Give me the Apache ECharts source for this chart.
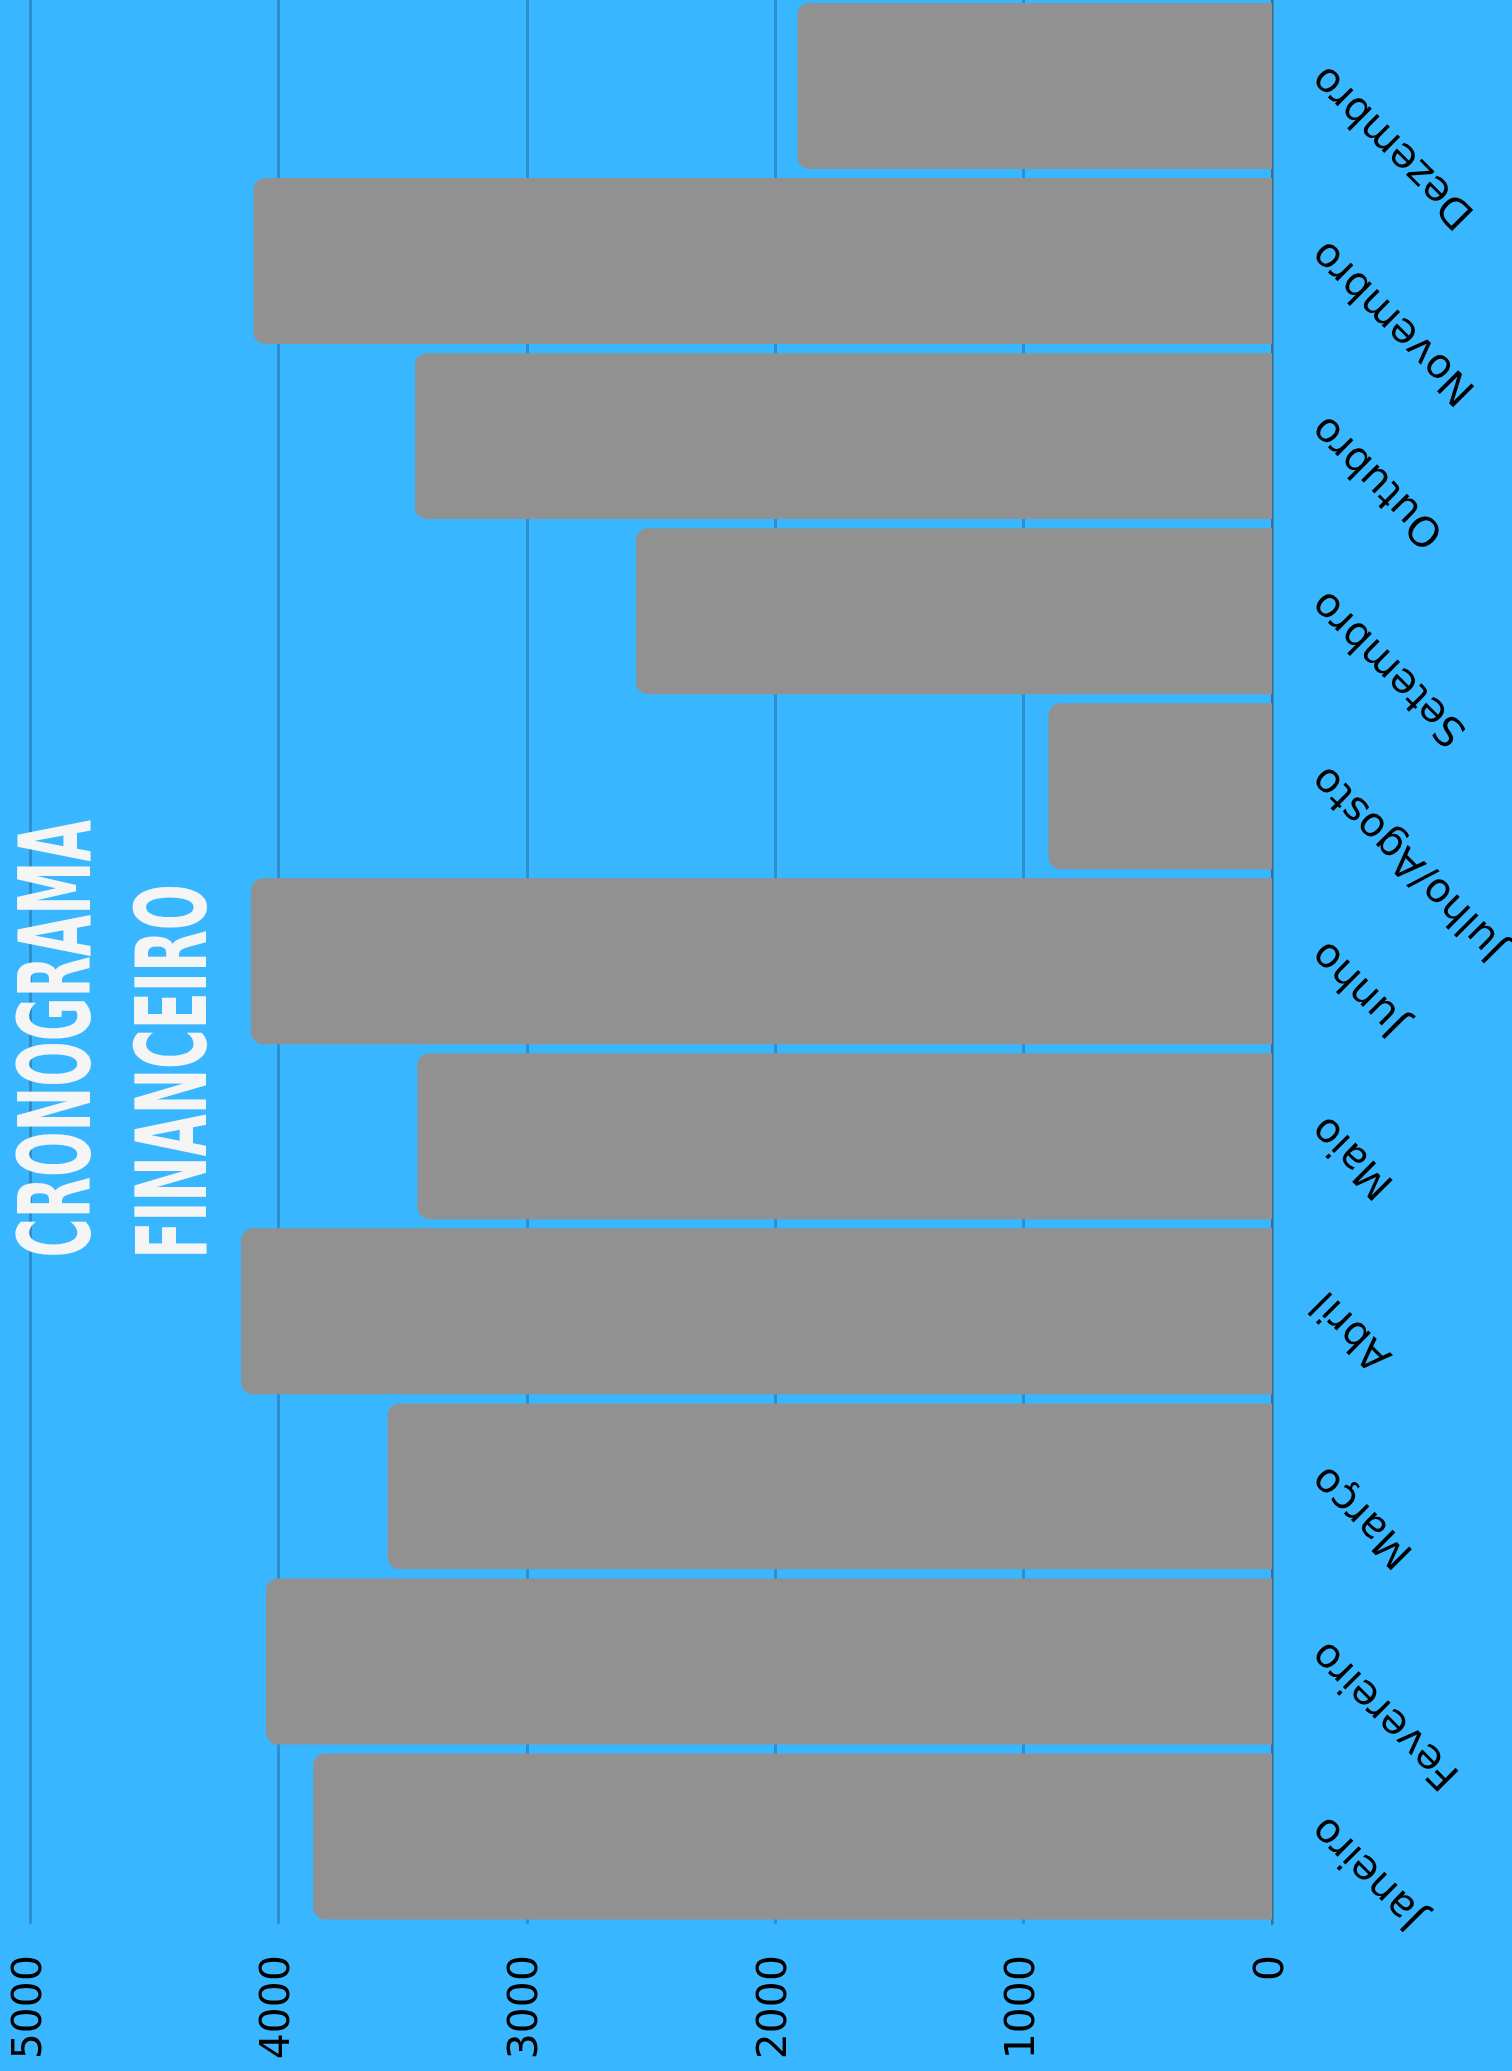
<!DOCTYPE html>
<html>
<head>
<meta charset="utf-8">
<script src="https://cdn.jsdelivr.net/npm/echarts@6/dist/echarts.min.js"></script>
<style>
html,body{margin:0;padding:0;background:#38b6ff;}
#c{width:1512px;height:2071px;}
</style>
</head>
<body>
<div id="c"></div>
<script>
const categories = ['Janeiro','Fevereiro','Março','Abril','Maio','Junho','Julho/Agosto','Setembro','Outubro','Novembro','Dezembro'];
const values = [3860, 4050, 3560, 4150, 3440, 4110, 900, 2560, 3450, 4100, 1910];
const valueTicks = [0, 1000, 2000, 3000, 4000, 5000];
const titleLines = ['CRONOGRAMA', 'FINANCEIRO'];

const TITLE_FAMILY = "'DejaVu Sans Condensed','Liberation Sans Narrow','DejaVu Sans',sans-serif";

function titleGraphic(text, box) {
  const ctx = document.createElement('canvas').getContext('2d');
  ctx.font = "bold 100px " + TITLE_FAMILY;
  ctx.textAlign = 'left';
  ctx.textBaseline = 'middle';
  const m = ctx.measureText(text);
  const abl = m.actualBoundingBoxLeft, abr = m.actualBoundingBoxRight;
  const asc = m.actualBoundingBoxAscent, desc = m.actualBoundingBoxDescent;
  const sx = (box.yBottom - box.yTop) / (abl + abr);
  const sy = (box.x1 - box.x0) / (asc + desc);
  return {
    type: 'text',
    x: box.x0 + sy * asc,
    y: box.yBottom - sx * abl,
    rotation: Math.PI / 2,
    scaleX: sx,
    scaleY: sy,
    z: 100,
    style: {
      text: text,
      fontSize: 100,
      fontWeight: 'bold',
      fontFamily: TITLE_FAMILY,
      fill: '#f5f5f5',
      align: 'left',
      verticalAlign: 'middle'
    }
  };
}

const chart = echarts.init(document.getElementById('c'), null, {renderer: 'canvas'});
const option = {
  animation: false,
  backgroundColor: '#38b6ff',
  grid: {left: 30, right: 240, top: -1.5, bottom: 147, containLabel: false, outerBoundsMode: 'none'},
  xAxis: {
    type: 'value',
    inverse: true,
    min: 0,
    max: 5000,
    interval: 1000,
    position: 'bottom',
    axisLine: {show: false},
    axisTick: {show: false},
    splitLine: {show: true, lineStyle: {color: '#2f8fcb', width: 3}},
    axisLabel: {
      rotate: 90,
      margin: 31,
      fontSize: 41,
      fontFamily: 'DejaVu Sans',
      color: '#000',
      customValues: valueTicks,
      formatter: function (v) { return String(v); }
    }
  },
  yAxis: {
    type: 'category',
    data: categories,
    position: 'right',
    axisLine: {show: true, onZero: false, lineStyle: {color: '#4a6b80', width: 2}},
    axisTick: {show: false},
    splitLine: {show: false},
    axisLabel: {
      interval: 0,
      rotate: 135,
      align: 'right',
      verticalAlign: 'top',
      margin: 33,
      fontSize: 41,
      fontFamily: 'DejaVu Sans',
      color: '#000'
    }
  },
  series: [{
    type: 'bar',
    data: values,
    barCategoryGap: '5.2%',
    itemStyle: {color: '#919191', borderRadius: [12, 0, 0, 12]}
  }],
  graphic: [
    titleGraphic(titleLines[0], {x0: 15, x1: 91, yTop: 820, yBottom: 1255}),
    titleGraphic(titleLines[1], {x0: 133, x1: 207, yTop: 887, yBottom: 1254})
  ]
};
chart.setOption(option);
</script>
</body>
</html>
